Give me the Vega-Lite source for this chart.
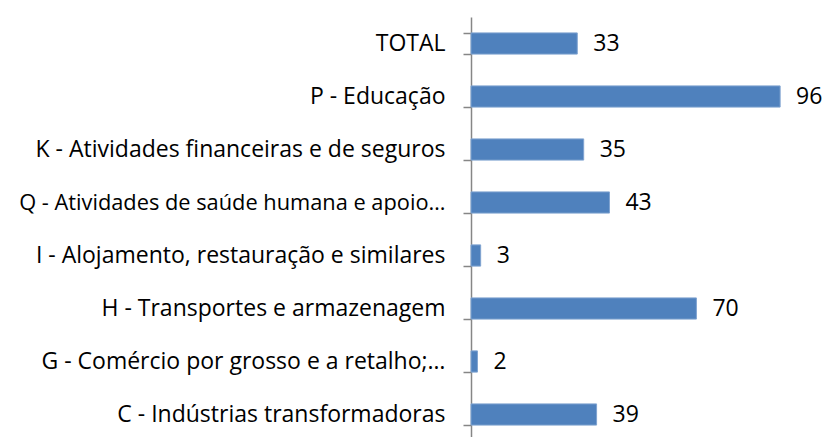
{
  "$schema": "https://vega.github.io/schema/vega-lite/v6.json",
  "autosize": "none",
  "width": 322,
  "height": 424,
  "padding": {"left": 471, "top": 17, "right": 30, "bottom": 0},
  "background": "white",
  "config": {"view": {"stroke": null}, "font": "Open Sans"},
  "data": {"values": [
    {"setor": "TOTAL", "valor": 33},
    {"setor": "P - Educação", "valor": 96},
    {"setor": "K - Atividades financeiras e de seguros", "valor": 35},
    {"setor": "Q - Atividades de saúde humana e apoio…", "valor": 43},
    {"setor": "I - Alojamento, restauração e similares", "valor": 3},
    {"setor": "H - Transportes e armazenagem", "valor": 70},
    {"setor": "G - Comércio por grosso e a retalho;…", "valor": 2},
    {"setor": "C - Indústrias transformadoras", "valor": 39}
  ]},
  "encoding": {
    "y": {"field": "setor", "type": "nominal", "sort": null,
      "scale": {"paddingInner": 0.6, "paddingOuter": 0.3},
      "axis": {"title": null, "domainColor": "#868686", "domainWidth": 1.5, "tickColor": "#868686", "tickWidth": 1.5, "tickSize": 8, "tickBand": "extent",
        "labelFontSize": {"condition": {"test": "indexof(datum.label, 'Q -') === 0", "value": 21.8}, "value": 23},
        "labelColor": "#000000", "labelPadding": 18, "labelLimit": 700, "labelFont": "Open Sans"}},
    "x": {"field": "valor", "type": "quantitative", "scale": {"domain": [0, 100], "nice": false}, "axis": null}
  },
  "layer": [
    {"mark": {"type": "bar", "color": "#4F81BD", "stroke": "#7FA3D0", "strokeWidth": 1}},
    {"mark": {"type": "text", "align": "left", "dx": 16, "fontSize": 23, "color": "#000000", "font": "Open Sans"},
      "encoding": {"text": {"field": "valor", "type": "quantitative"}}}
  ]
}
